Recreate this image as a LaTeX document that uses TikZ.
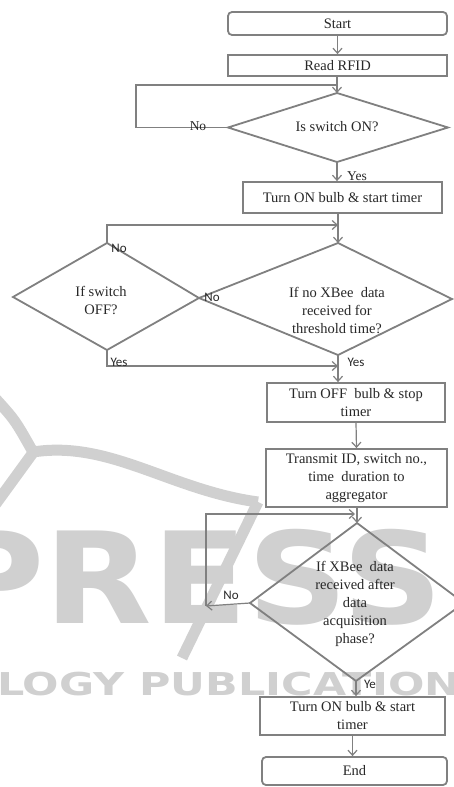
\documentclass[tikz,border=0pt]{standalone}
\usepackage{fontspec}
\setmainfont{Liberation Serif}
\newfontfamily\lblfont{Carlito}
\newfontfamily\wmfont{DejaVu Sans}
\usetikzlibrary{arrows.meta}
\definecolor{lc}{RGB}{128,128,128}
\definecolor{tc}{RGB}{40,40,40}
\definecolor{wmc}{RGB}{208,208,208}
\newcommand{\mainsize}{\fontsize{14.5}{18}\selectfont}
\tikzset{
  boxline/.style={draw=lc, line width=1.8pt},
  proc/.style={boxline, rectangle, inner sep=0pt, align=center, font=\mainsize, text=tc},
  term/.style={proc, rounded corners=4pt},
  conn/.style={draw=lc, line width=1.2pt, -{Straight Barb[length=5pt,width=9pt]}},
  plainline/.style={draw=lc, line width=1.2pt},
  txt/.style={align=center, font=\mainsize, text=tc, inner sep=0pt},
  lbl/.style={font=\lblfont\fontsize{13}{13}\selectfont, text=tc, inner sep=0pt},
  slbl/.style={font=\fontsize{13.5}{13.5}\selectfont, text=tc, inner sep=0pt},
  wmark/.style={draw=wmc, line width=11pt},
}
\begin{document}
\begin{tikzpicture}[x=1pt,y=-1pt]
\useasboundingbox (0,0) rectangle (454,787);
\clip (0,0) rectangle (454,787);
\fill[white] (0,0) rectangle (454,787);
% watermark
\node[anchor=base west, text=wmc, inner sep=0pt, font=\wmfont\bfseries\fontsize{127}{127}\selectfont] (wmA) at (-58,623) {\scalebox{1.1}[1]{PRESS}};
\node[anchor=base west, text=wmc, inner sep=0pt, font=\wmfont\bfseries\fontsize{31.5}{31.5}\selectfont] (wmB) at (-3,695) {\scalebox{1.36}[1]{LOGY PUBLICATIONS}};
\draw[wmark] (-5,398) .. controls (15,420) .. (33,452);
\draw[wmark] (33,452) .. controls (110,440) and (170,490) .. (258,502);
\draw[wmark] (35,450) -- (-5,505);
\draw[wmark] (258,502) -- (182,658);
% shapes
\node[term, minimum width=219pt, minimum height=23pt] (start) at (337.5,23.5) {Start};
\node[proc, minimum width=219pt, minimum height=21pt] (read) at (337.5,65.5) {Read RFID};
\coordinate (d1t) at (337,93);
\coordinate (d1r) at (448,127.5);
\coordinate (d1b) at (337,162);
\coordinate (d1l) at (228,127.5);
\draw[boxline] (d1t) -- (d1r) -- (d1b) -- (d1l) -- cycle;
\node[txt] (d1) at (337,127) {Is switch ON?};
\node[proc, minimum width=199pt, minimum height=31pt] (on1) at (342.5,197.5) {Turn ON bulb \& start timer};
\coordinate (d2t) at (338,243);
\coordinate (d2r) at (452,299);
\coordinate (d2b) at (338,355);
\coordinate (d2l) at (199,298);
\draw[boxline] (d2t) -- (d2r) -- (d2b) -- (d2l) -- cycle;
\node[txt] (d2) at (337,310) {If no XBee\ \ data\\received for\\threshold time?};
\coordinate (d3t) at (107,243);
\coordinate (d3l) at (13,297);
\coordinate (d3b) at (107,350);
\draw[boxline] (d3t) -- (d2l) -- (d3b) -- (d3l) -- cycle;
\node[txt] (d3) at (101,300) {If switch\\OFF?};
\node[proc, minimum width=178pt, minimum height=39pt] (off) at (356,402.5) {Turn OFF\ \ bulb \& stop\\timer};
\node[proc, minimum width=181pt, minimum height=58pt] (tx) at (356.5,478) {Transmit ID,\ switch no.,\\time\ \ duration to\\aggregator};
\coordinate (d4t) at (357,523);
\coordinate (d4r) at (464,603);
\coordinate (d4b) at (356,681);
\coordinate (d4l) at (250,603);
\draw[boxline] (d4t) -- (d4r) -- (d4b) -- (d4l) -- cycle;
\node[txt] (d4) at (355,604) {If XBee\ \ data\\received after\\data\\acquisition\\phase?};
\node[proc, minimum width=185pt, minimum height=38pt] (on2) at (352.5,716) {Turn ON bulb \& start\\timer};
\node[term, minimum width=185pt, minimum height=28pt] (stop) at (354.5,771) {End};
% connectors
\draw[conn] (start.south) -- (read.north);
\draw[conn] (read.south -| d1t) -- (d1t);
\coordinate (l1) at (136,127.5);
\coordinate (l2) at (136,85);
\coordinate (l3) at (337,85);
\draw[plainline] (d1l) -- (l1) -- (l2) -- (l3);
\node[slbl] (no1) at (198,126) {No};
\draw[conn] (d1b) -- (on1.north -| d1b);
\node[slbl] (yes1) at (357,176) {Yes};
\draw[conn] (on1.south -| d2t) -- (d2t);
\coordinate (n1) at (107,225);
\coordinate (n2) at (338,225);
\draw[conn] (d3t) -- (n1) -- (n2);
\node[lbl] (no2) at (119,248) {No};
\node[lbl] (no3) at (212,297) {No};
\coordinate (y1) at (107,366);
\coordinate (y2) at (338,366);
\draw[conn] (d3b) -- (y1) -- (y2);
\node[lbl] (yes2) at (119,362) {Yes};
\node[lbl] (yes3) at (356,362) {Yes};
\draw[conn] (d2b) -- (off.north -| d2b);
\draw[conn] (off.south) -- (tx.north);
\draw[conn] (tx.south -| d4t) -- (d4t);
\coordinate (m1) at (206,606);
\coordinate (m2) at (206,514);
\coordinate (m3) at (355,514);
\draw[conn] (d4l) -- (m1);
\draw[conn] (m1) -- (m2) -- (m3);
\node[lbl] (no4) at (231,595) {No};
\draw[conn] (d4b) -- (on2.north -| d4b);
\node[lbl] (ye) at (370,684) {Ye};
\draw[conn] (on2.south) -- (on2.south |- stop.north);
\end{tikzpicture}
\end{document}
